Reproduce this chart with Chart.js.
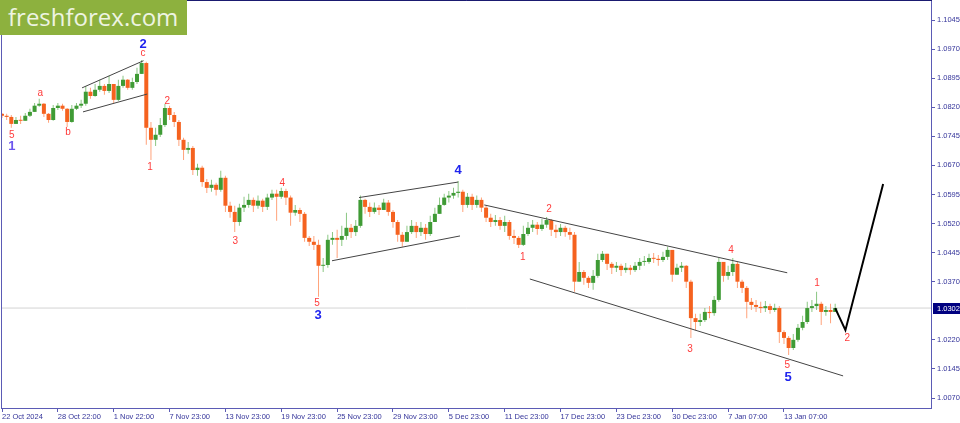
<!DOCTYPE html>
<html>
<head>
<meta charset="utf-8">
<title>EURUSD H4</title>
<script src="https://cdn.jsdelivr.net/npm/chart.js@4.4.1/dist/chart.umd.min.js"></script>
<style>
  html, body { margin: 0; padding: 0; background: #ffffff; }
  #contenedor { position: relative; width: 960px; height: 423px; }
  #logo {
    position: absolute; left: 0; top: 0; width: 187px; height: 35px;
    background: #8db13e; color: #eef4e2;
    font-family: "Open Sans", sans-serif; font-size: 24px; line-height: 33px;
    padding-left: 8px; box-sizing: border-box; white-space: nowrap;
  }
</style>
</head>
<body>
<div id="contenedor">
  <canvas id="grafico" width="960" height="423"></canvas>
  <div id="logo">freshforex.com</div>
</div>
<script>
/*==========================================================

DATOS DEL GRAFICO (velas H4, eje de fechas y precios)

==========================================================*/

var tickIdx = [0, 12, 24, 36, 48, 60, 72, 84, 96, 108, 120, 132, 144, 156, 168];
var tickLabels = [
  "22 Oct 2024", "28 Oct 22:00", "1 Nov 22:00", "7 Nov 23:00", "13 Nov 23:00",
  "19 Nov 23:00", "25 Nov 23:00", "29 Nov 23:00", "5 Dec 23:00", "11 Dec 23:00",
  "17 Dec 23:00", "23 Dec 23:00", "30 Dec 23:00", "7 Jan 07:00", "13 Jan 07:00",
];
var yTicks = [1.0070, 1.0145, 1.0220, 1.0370, 1.0445, 1.0520, 1.0595, 1.0670, 1.0745, 1.0820, 1.0895, 1.0970, 1.1045];

var opens = [
  1.0803, 1.0798, 1.0795, 1.0777, 1.0787, 1.0785, 1.0798, 1.0808, 1.0824, 1.0829, 1.0803, 1.0787,
  1.0818, 1.0824, 1.0816, 1.0782, 1.0816, 1.0824, 1.0829, 1.0860, 1.0849, 1.0865, 1.0875, 1.0862,
  1.0880, 1.0839, 1.0875, 1.0891, 1.0870, 1.0885, 1.0906, 1.0934, 1.0767, 1.0736, 1.0749, 1.0774,
  1.0818, 1.0800, 1.0782, 1.0736, 1.0710, 1.0715, 1.0658, 1.0664, 1.0627, 1.0612, 1.0620, 1.0607,
  1.0638, 1.0566, 1.0550, 1.0524, 1.0561, 1.0568, 1.0581, 1.0566, 1.0579, 1.0563, 1.0587, 1.0597,
  1.0589, 1.0604, 1.0587, 1.0548, 1.0555, 1.0545, 1.0483, 1.0473, 1.0465, 1.0411, 1.0413, 1.0478,
  1.0483, 1.0478, 1.0488, 1.0509, 1.0498, 1.0514, 1.0581, 1.0563, 1.0550, 1.0561, 1.0555, 1.0574,
  1.0550, 1.0524, 1.0491, 1.0473, 1.0498, 1.0514, 1.0498, 1.0509, 1.0493, 1.0524, 1.0545, 1.0568,
  1.0587, 1.0592, 1.0599, 1.0602, 1.0568, 1.0589, 1.0568, 1.0581, 1.0561, 1.0535, 1.0524, 1.0529,
  1.0514, 1.0524, 1.0488, 1.0483, 1.0465, 1.0493, 1.0509, 1.0517, 1.0506, 1.0517, 1.0529, 1.0504,
  1.0498, 1.0509, 1.0498, 1.0491, 1.0370, 1.0395, 1.0380, 1.0367, 1.0385, 1.0426, 1.0442, 1.0416,
  1.0406, 1.0411, 1.0400, 1.0406, 1.0400, 1.0411, 1.0421, 1.0421, 1.0431, 1.0429, 1.0426, 1.0434,
  1.0452, 1.0388, 1.0406, 1.0411, 1.0370, 1.0276, 1.0266, 1.0271, 1.0292, 1.0289, 1.0323, 1.0421,
  1.0385, 1.0395, 1.0416, 1.0370, 1.0354, 1.0318, 1.0310, 1.0305, 1.0302, 1.0307, 1.0297, 1.0302,
  1.0240, 1.0225, 1.0199, 1.0220, 1.0251, 1.0266, 1.0302, 1.0307, 1.0313, 1.0292, 1.0297, 1.0292,
];
var highs = [
  1.0805, 1.0803, 1.0800, 1.0795, 1.0798, 1.0805, 1.0816, 1.0831, 1.0842, 1.0831, 1.0805, 1.0826,
  1.0831, 1.0829, 1.0818, 1.0826, 1.0831, 1.0839, 1.0875, 1.0870, 1.0880, 1.0891, 1.0880, 1.0901,
  1.0880, 1.0891, 1.0901, 1.0893, 1.0896, 1.0922, 1.0942, 1.0937, 1.0782, 1.0767, 1.0792, 1.0829,
  1.0824, 1.0808, 1.0787, 1.0741, 1.0730, 1.0720, 1.0674, 1.0669, 1.0635, 1.0633, 1.0625, 1.0656,
  1.0643, 1.0576, 1.0566, 1.0571, 1.0589, 1.0597, 1.0587, 1.0592, 1.0584, 1.0597, 1.0607, 1.0607,
  1.0612, 1.0610, 1.0592, 1.0568, 1.0561, 1.0550, 1.0488, 1.0488, 1.0478, 1.0431, 1.0491, 1.0498,
  1.0504, 1.0514, 1.0548, 1.0519, 1.0529, 1.0592, 1.0584, 1.0574, 1.0574, 1.0568, 1.0584, 1.0581,
  1.0555, 1.0529, 1.0498, 1.0514, 1.0529, 1.0524, 1.0524, 1.0519, 1.0540, 1.0561, 1.0587, 1.0597,
  1.0604, 1.0612, 1.0630, 1.0607, 1.0599, 1.0597, 1.0592, 1.0587, 1.0566, 1.0545, 1.0542, 1.0537,
  1.0540, 1.0529, 1.0504, 1.0488, 1.0514, 1.0524, 1.0529, 1.0524, 1.0532, 1.0537, 1.0532, 1.0517,
  1.0519, 1.0514, 1.0509, 1.0498, 1.0421, 1.0400, 1.0385, 1.0400, 1.0442, 1.0449, 1.0442, 1.0421,
  1.0421, 1.0416, 1.0418, 1.0413, 1.0421, 1.0431, 1.0436, 1.0442, 1.0444, 1.0439, 1.0447, 1.0460,
  1.0452, 1.0416, 1.0421, 1.0413, 1.0375, 1.0287, 1.0287, 1.0302, 1.0307, 1.0333, 1.0431, 1.0421,
  1.0411, 1.0431, 1.0421, 1.0375, 1.0359, 1.0328, 1.0323, 1.0318, 1.0320, 1.0313, 1.0313, 1.0307,
  1.0245, 1.0230, 1.0235, 1.0261, 1.0282, 1.0318, 1.0323, 1.0344, 1.0318, 1.0307, 1.0313, 1.0313,
];
var lows = [
  1.0792, 1.0787, 1.0767, 1.0777, 1.0777, 1.0785, 1.0795, 1.0811, 1.0821, 1.0795, 1.0780, 1.0785,
  1.0813, 1.0811, 1.0769, 1.0780, 1.0813, 1.0818, 1.0824, 1.0842, 1.0847, 1.0860, 1.0852, 1.0857,
  1.0831, 1.0836, 1.0870, 1.0865, 1.0865, 1.0880, 1.0916, 1.0723, 1.0684, 1.0720, 1.0743, 1.0769,
  1.0787, 1.0769, 1.0720, 1.0684, 1.0700, 1.0645, 1.0643, 1.0615, 1.0599, 1.0602, 1.0592, 1.0602,
  1.0550, 1.0535, 1.0498, 1.0514, 1.0550, 1.0561, 1.0550, 1.0558, 1.0550, 1.0555, 1.0581, 1.0527,
  1.0584, 1.0568, 1.0514, 1.0540, 1.0524, 1.0473, 1.0462, 1.0452, 1.0331, 1.0395, 1.0406, 1.0465,
  1.0431, 1.0462, 1.0478, 1.0483, 1.0488, 1.0509, 1.0545, 1.0537, 1.0545, 1.0542, 1.0555, 1.0540,
  1.0509, 1.0473, 1.0460, 1.0478, 1.0493, 1.0483, 1.0488, 1.0478, 1.0488, 1.0529, 1.0545, 1.0566,
  1.0574, 1.0584, 1.0587, 1.0550, 1.0561, 1.0555, 1.0561, 1.0550, 1.0524, 1.0511, 1.0514, 1.0504,
  1.0498, 1.0478, 1.0467, 1.0457, 1.0462, 1.0488, 1.0498, 1.0491, 1.0501, 1.0509, 1.0488, 1.0483,
  1.0488, 1.0486, 1.0478, 1.0344, 1.0370, 1.0362, 1.0354, 1.0349, 1.0380, 1.0421, 1.0400, 1.0390,
  1.0395, 1.0385, 1.0393, 1.0388, 1.0395, 1.0400, 1.0411, 1.0416, 1.0418, 1.0411, 1.0421, 1.0426,
  1.0370, 1.0388, 1.0395, 1.0354, 1.0225, 1.0245, 1.0256, 1.0266, 1.0276, 1.0282, 1.0318, 1.0370,
  1.0375, 1.0385, 1.0354, 1.0341, 1.0276, 1.0297, 1.0292, 1.0289, 1.0292, 1.0287, 1.0292, 1.0212,
  1.0209, 1.0181, 1.0194, 1.0215, 1.0245, 1.0261, 1.0292, 1.0297, 1.0258, 1.0282, 1.0263, 1.0292,
];
var closes = [
  1.0798, 1.0795, 1.0777, 1.0787, 1.0785, 1.0798, 1.0808, 1.0824, 1.0829, 1.0803, 1.0787, 1.0818,
  1.0824, 1.0816, 1.0782, 1.0816, 1.0824, 1.0829, 1.0860, 1.0849, 1.0865, 1.0875, 1.0862, 1.0880,
  1.0839, 1.0875, 1.0891, 1.0870, 1.0885, 1.0906, 1.0934, 1.0767, 1.0736, 1.0749, 1.0774, 1.0818,
  1.0800, 1.0782, 1.0736, 1.0710, 1.0715, 1.0658, 1.0664, 1.0627, 1.0612, 1.0620, 1.0607, 1.0638,
  1.0566, 1.0550, 1.0524, 1.0561, 1.0568, 1.0581, 1.0566, 1.0579, 1.0563, 1.0587, 1.0597, 1.0589,
  1.0604, 1.0587, 1.0548, 1.0555, 1.0545, 1.0483, 1.0473, 1.0465, 1.0411, 1.0413, 1.0478, 1.0483,
  1.0478, 1.0488, 1.0509, 1.0498, 1.0514, 1.0581, 1.0563, 1.0550, 1.0561, 1.0555, 1.0574, 1.0550,
  1.0524, 1.0491, 1.0473, 1.0498, 1.0514, 1.0498, 1.0509, 1.0493, 1.0524, 1.0545, 1.0568, 1.0587,
  1.0592, 1.0599, 1.0602, 1.0568, 1.0589, 1.0568, 1.0581, 1.0561, 1.0535, 1.0524, 1.0529, 1.0514,
  1.0524, 1.0488, 1.0483, 1.0465, 1.0493, 1.0509, 1.0517, 1.0506, 1.0517, 1.0529, 1.0504, 1.0498,
  1.0509, 1.0498, 1.0491, 1.0370, 1.0395, 1.0380, 1.0367, 1.0385, 1.0426, 1.0442, 1.0416, 1.0406,
  1.0411, 1.0400, 1.0406, 1.0400, 1.0411, 1.0421, 1.0421, 1.0431, 1.0429, 1.0426, 1.0434, 1.0452,
  1.0388, 1.0406, 1.0411, 1.0370, 1.0276, 1.0266, 1.0271, 1.0292, 1.0289, 1.0323, 1.0421, 1.0385,
  1.0395, 1.0416, 1.0370, 1.0354, 1.0318, 1.0310, 1.0305, 1.0302, 1.0307, 1.0297, 1.0302, 1.0240,
  1.0225, 1.0199, 1.0220, 1.0251, 1.0266, 1.0302, 1.0307, 1.0313, 1.0292, 1.0297, 1.0292, 1.0302,
];
var lastPrice = 1.0302;

// lineas de canal: pares [vela, precio]
var wedgeUpper = [[17.2, 1.0870], [30.4, 1.0940]];
var wedgeLower = [[17.4, 1.0808], [31.2, 1.0854]];
var flagUpper = [[76.7, 1.0587], [98.0, 1.0627]];
var flagLower = [[70.9, 1.0424], [98.4, 1.0488]];
var channelUpper = [[103.6, 1.0568], [168.7, 1.0393]];
var channelLower = [[113.4, 1.0377], [180.7, 1.0127]];
var forecast = [[179, 1.0302], [181.2, 1.0245], [189.3, 1.0622]];

// marcas de ondas de Elliott
var waveText = ["5", "1", "a", "b", "2", "c", "1", "2", "3", "4", "5", "3", "4", "1", "2", "3", "4", "5", "5", "1", "2"];
var waveIdx = [2.1, 2.1, 8.2, 14.2, 30.3, 30.3, 31.8, 35.5, 50.1, 60.2, 67.7, 67.9, 98.0, 111.9, 117.5, 147.8, 156.6, 168.7, 168.9, 175.1, 181.6];
var wavePrice = [1.0749, 1.0718, 1.0857, 1.0756, 1.0981, 1.0958, 1.0664, 1.0836, 1.0475, 1.0625, 1.0315, 1.0284, 1.0656, 1.0434, 1.0558, 1.0197, 1.0452, 1.0155, 1.0124, 1.0367, 1.0225];
var waveDegree = ["minor", "primary", "minor", "minor", "major", "minor", "minor", "minor", "minor", "minor", "minor", "major", "major", "minor", "minor", "minor", "minor", "minor", "major", "minor", "minor"];

/*==========================================================

CONFIGURACION

==========================================================*/

var X_MIN = -0.215;
var X_MAX = 199.8;
var Y_MIN = 1.0041627;
var Y_MAX = 1.1094008;
var fuente = '"Liberation Sans", Arial, sans-serif';
var colorTexto = "#34349a";
var colorMarco = "#5b5bb5";

var estilosOnda = {
  minor: { font: "10px " + fuente, color: "#ff3b3b" },
  major: { font: "bold 13px " + fuente, color: "#1f24ee" },
  primary: { font: "bold 13px " + fuente, color: "#6c55ee" },
};

function toPoints(par) {
  return par.map(function (p) {
    return { x: p[0], y: p[1] };
  });
}

function lineaCanal(par, color, ancho) {
  return {
    type: "line",
    data: toPoints(par),
    borderColor: color,
    borderWidth: ancho,
    pointRadius: 0,
    fill: false,
    tension: 0,
    order: 1,
  };
}

var colorMecha = [];
var colorCuerpo = [];
var datosMecha = [];
var datosCuerpo = [];
closes.forEach(function (c, i) {
  var o = opens[i];
  var sube = c >= o;
  colorMecha.push(sube ? "rgba(110,185,100,0.8)" : "rgba(255,140,90,0.8)");
  colorCuerpo.push(sube ? "#3f9b35" : "#f5621f");
  datosMecha.push({ x: i, y: [Math.min(lows[i], o, c), Math.max(highs[i], o, c)] });
  datosCuerpo.push({ x: i, y: [o, c] });
});

/*==========================================================

PLUGINS: marco, etiqueta de precio y ondas

==========================================================*/

var marcoPrecio = {
  id: "marcoPrecio",
  afterDraw: function (chart) {
    var ctx = chart.ctx;
    var a = chart.chartArea;
    var ys = chart.scales.y;
    ctx.save();
    ctx.strokeStyle = colorMarco;
    ctx.lineWidth = 1;
    ctx.strokeRect(a.left + 0.5, a.top - 0.5, a.right - a.left - 1, a.bottom - a.top);
    ctx.strokeStyle = "#1a1a70";
    ctx.beginPath();
    ctx.moveTo(a.left, a.top - 0.5);
    ctx.lineTo(a.right, a.top - 0.5);
    ctx.stroke();

    var yp = Math.round(ys.getPixelForValue(lastPrice));
    ctx.fillStyle = "#000080";
    ctx.fillRect(a.right + 1, yp - 5, 27, 11);
    ctx.fillStyle = "#ffffff";
    ctx.font = "7.5px " + fuente;
    ctx.textAlign = "left";
    ctx.textBaseline = "middle";
    ctx.fillText(lastPrice.toFixed(4), a.right + 5, yp + 0.5);
    ctx.restore();
  },
};

var etiquetasOnda = {
  id: "etiquetasOnda",
  afterDatasetsDraw: function (chart) {
    var ctx = chart.ctx;
    var xs = chart.scales.x;
    var ys = chart.scales.y;
    ctx.save();
    ctx.textAlign = "center";
    ctx.textBaseline = "middle";
    waveText.forEach(function (t, i) {
      var st = estilosOnda[waveDegree[i]];
      ctx.font = st.font;
      ctx.fillStyle = st.color;
      ctx.fillText(t, xs.getPixelForValue(waveIdx[i]), ys.getPixelForValue(wavePrice[i]));
    });
    ctx.restore();
  },
};

/*==========================================================

GRAFICO

==========================================================*/

mostrarGrafico();

function mostrarGrafico() {
  var ctx = document.getElementById("grafico").getContext("2d");
  new Chart(ctx, {
    type: "bar",
    data: {
      datasets: [
        {
          type: "line",
          data: [{ x: X_MIN, y: lastPrice }, { x: X_MAX, y: lastPrice }],
          borderColor: "#d4d4d4",
          borderWidth: 1,
          pointRadius: 0,
          order: 6,
        },
        {
          data: datosMecha,
          backgroundColor: colorMecha,
          barThickness: 1,
          grouped: false,
          inflateAmount: 0,
          order: 5,
        },
        {
          data: datosCuerpo,
          backgroundColor: colorCuerpo,
          barThickness: 4,
          minBarLength: 1,
          grouped: false,
          inflateAmount: 0,
          order: 4,
        },
        lineaCanal(wedgeUpper, "#444444", 1),
        lineaCanal(wedgeLower, "#444444", 1),
        lineaCanal(flagUpper, "#444444", 1),
        lineaCanal(flagLower, "#444444", 1),
        lineaCanal(channelUpper, "#444444", 1),
        lineaCanal(channelLower, "#444444", 1),
        lineaCanal(forecast, "#000000", 2),
      ],
    },
    options: {
      responsive: false,
      animation: false,
      events: [],
      layout: { padding: { left: 1, top: 1, right: 0, bottom: 0 } },
      plugins: {
        legend: { display: false },
        tooltip: { enabled: false },
      },
      scales: {
        x: {
          type: "linear",
          min: X_MIN,
          max: X_MAX,
          offset: false,
          grid: { display: true, offset: false, drawOnChartArea: false, drawTicks: true, tickLength: 3, color: colorMarco },
          border: { display: false },
          afterBuildTicks: function (s) {
            s.ticks = tickIdx.map(function (v) {
              return { value: v };
            });
          },
          afterFit: function (s) {
            s.height = 14;
            s.paddingLeft = 0;
            s.paddingRight = 0;
          },
          ticks: {
            autoSkip: false,
            maxRotation: 0,
            minRotation: 0,
            align: "start",
            padding: 0,
            color: colorTexto,
            font: { family: fuente, size: 7.5 },
            callback: function (value) {
              return tickLabels[tickIdx.indexOf(value)];
            },
          },
        },
        y: {
          position: "right",
          min: Y_MIN,
          max: Y_MAX,
          grid: { display: true, drawOnChartArea: false, drawTicks: true, tickLength: 3, color: colorMarco },
          border: { display: false },
          afterBuildTicks: function (s) {
            s.ticks = yTicks.map(function (v) {
              return { value: v };
            });
          },
          afterFit: function (s) {
            s.width = 28;
            s.paddingTop = 0;
            s.paddingBottom = 0;
          },
          ticks: {
            padding: 2,
            color: colorTexto,
            font: { family: fuente, size: 7.5 },
            callback: function (v) {
              return v.toFixed(4);
            },
          },
        },
      },
    },
    plugins: [marcoPrecio, etiquetasOnda],
  });
}
</script>
</body>
</html>
